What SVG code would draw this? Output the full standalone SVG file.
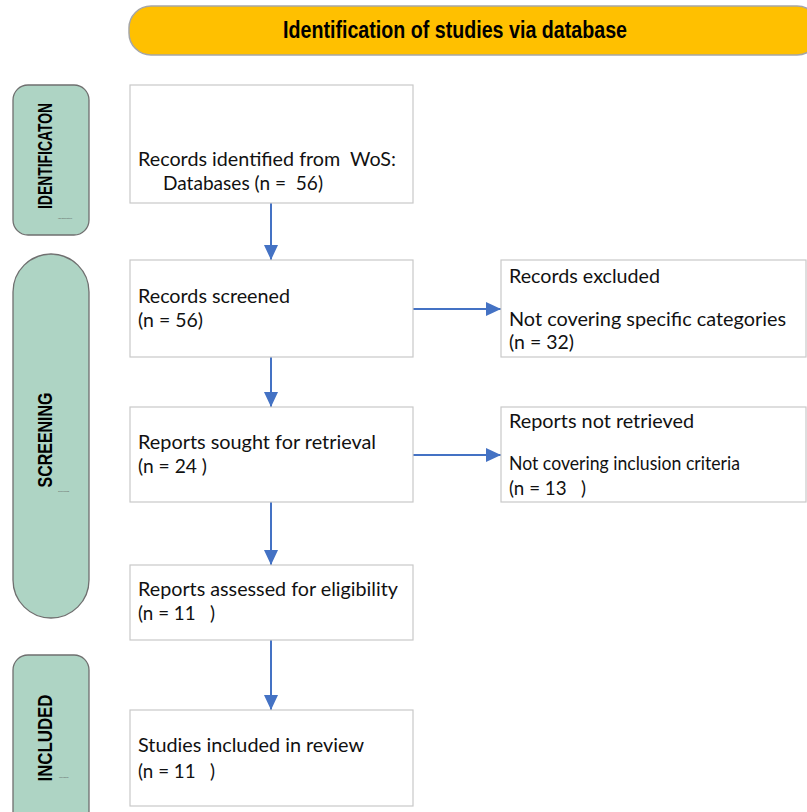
<svg xmlns="http://www.w3.org/2000/svg" width="807" height="812" viewBox="0 0 807 812">
<style>
.box{fill:#fff;stroke:#c9c9c9;stroke-width:1.2}
.side{fill:#aed4c4;stroke:#6f6f6f;stroke-width:1.3}
.t{font-family:Lato,"Liberation Sans",sans-serif;font-size:19px;fill:#111}
.sl{font-family:"Liberation Sans Narrow","Liberation Sans",Arial,sans-serif;font-weight:bold;font-size:20px;fill:#000}
.tiny{font-family:"Liberation Sans",sans-serif;font-size:2.5px;fill:#555}
.con{stroke:#4472c4;stroke-width:2;fill:none}
</style>
<defs>
<marker id="ah" markerUnits="userSpaceOnUse" markerWidth="16" markerHeight="14" refX="15" refY="7" orient="auto">
<path d="M0,0 L15,7 L0,14 Z" fill="#4472c4"/>
</marker>
</defs>
<rect width="807" height="812" fill="#fff"/>
<g id="header">
<rect x="129" y="6" width="690" height="49" rx="22" fill="#ffc000" stroke="#a6a6a6" stroke-width="1.5"/>
<text x="455" y="38" text-anchor="middle" font-family="'Liberation Sans Narrow','Liberation Sans',Arial,sans-serif" font-weight="bold" font-size="23" textLength="344" lengthAdjust="spacingAndGlyphs" fill="#000">Identification of studies via database</text>
</g>
<g id="side-identification">
<rect class="side" x="13" y="85" width="76" height="150" rx="15"/>
<text class="sl" transform="translate(52,156) rotate(-90)" text-anchor="middle" textLength="106" lengthAdjust="spacingAndGlyphs">IDENTIFICATON</text>
<text class="tiny" x="58" y="219">Identification</text>
</g>
<g id="side-screening">
<rect class="side" x="13" y="254" width="76" height="364" rx="38"/>
<text class="sl" transform="translate(52,440) rotate(-90)" text-anchor="middle" textLength="95" lengthAdjust="spacingAndGlyphs">SCREENING</text>
<text class="tiny" x="58" y="492">Screening</text>
</g>
<g id="side-included">
<rect class="side" x="13" y="655" width="76" height="180" rx="15"/>
<text class="sl" transform="translate(52,738) rotate(-90)" text-anchor="middle" textLength="87" lengthAdjust="spacingAndGlyphs">INCLUDED</text>
<text class="tiny" x="59" y="778">Included</text>
</g>
<g id="connectors">
<line class="con" x1="271" y1="203" x2="271" y2="260" marker-end="url(#ah)"/>
<line class="con" x1="271" y1="357" x2="271" y2="407" marker-end="url(#ah)"/>
<line class="con" x1="271" y1="502" x2="271" y2="565" marker-end="url(#ah)"/>
<line class="con" x1="271" y1="640" x2="271" y2="710" marker-end="url(#ah)"/>
<line class="con" x1="413" y1="309" x2="501" y2="309" marker-end="url(#ah)"/>
<line class="con" x1="413" y1="455" x2="501" y2="455" marker-end="url(#ah)"/>
</g>
<g id="n-identified">
<rect class="box" x="130" y="85" width="283" height="118"/>
<text class="t" x="138" y="166" xml:space="preserve" textLength="258" lengthAdjust="spacingAndGlyphs">Records identified from  WoS:</text>
<text class="t" x="163" y="190" xml:space="preserve" textLength="160" lengthAdjust="spacingAndGlyphs">Databases (n =  56)</text>
</g>
<g id="n-screened">
<rect class="box" x="130" y="260" width="283" height="97"/>
<text class="t" x="138" y="303" textLength="152" lengthAdjust="spacingAndGlyphs">Records screened</text>
<text class="t" x="138" y="327" textLength="65" lengthAdjust="spacingAndGlyphs">(n = 56)</text>
</g>
<g id="n-excluded">
<rect class="box" x="501" y="260" width="305" height="97"/>
<text class="t" x="509" y="283" textLength="151" lengthAdjust="spacingAndGlyphs">Records excluded</text>
<text class="t" x="509" y="326" textLength="277" lengthAdjust="spacingAndGlyphs">Not covering specific categories</text>
<text class="t" x="509" y="349" textLength="65" lengthAdjust="spacingAndGlyphs">(n = 32)</text>
</g>
<g id="n-sought">
<rect class="box" x="130" y="407" width="283" height="95"/>
<text class="t" x="138" y="449" textLength="238" lengthAdjust="spacingAndGlyphs">Reports sought for retrieval</text>
<text class="t" x="138" y="473" xml:space="preserve" textLength="69" lengthAdjust="spacingAndGlyphs">(n = 24 )</text>
</g>
<g id="n-notretrieved">
<rect class="box" x="501" y="407" width="305" height="95"/>
<text class="t" x="509" y="428" textLength="185" lengthAdjust="spacingAndGlyphs">Reports not retrieved</text>
<text class="t" x="509" y="470" textLength="231" lengthAdjust="spacingAndGlyphs">Not covering inclusion criteria</text>
<text class="t" x="509" y="495" xml:space="preserve" textLength="77" lengthAdjust="spacingAndGlyphs">(n = 13   )</text>
</g>
<g id="n-assessed">
<rect class="box" x="130" y="565" width="283" height="75"/>
<text class="t" x="138" y="596" textLength="260" lengthAdjust="spacingAndGlyphs">Reports assessed for eligibility</text>
<text class="t" x="138" y="620" xml:space="preserve" textLength="77" lengthAdjust="spacingAndGlyphs">(n = 11   )</text>
</g>
<g id="n-included">
<rect class="box" x="130" y="710" width="283" height="96"/>
<text class="t" x="138" y="752" textLength="226" lengthAdjust="spacingAndGlyphs">Studies included in review</text>
<text class="t" x="138" y="778" xml:space="preserve" textLength="77" lengthAdjust="spacingAndGlyphs">(n = 11   )</text>
</g>
</svg>
